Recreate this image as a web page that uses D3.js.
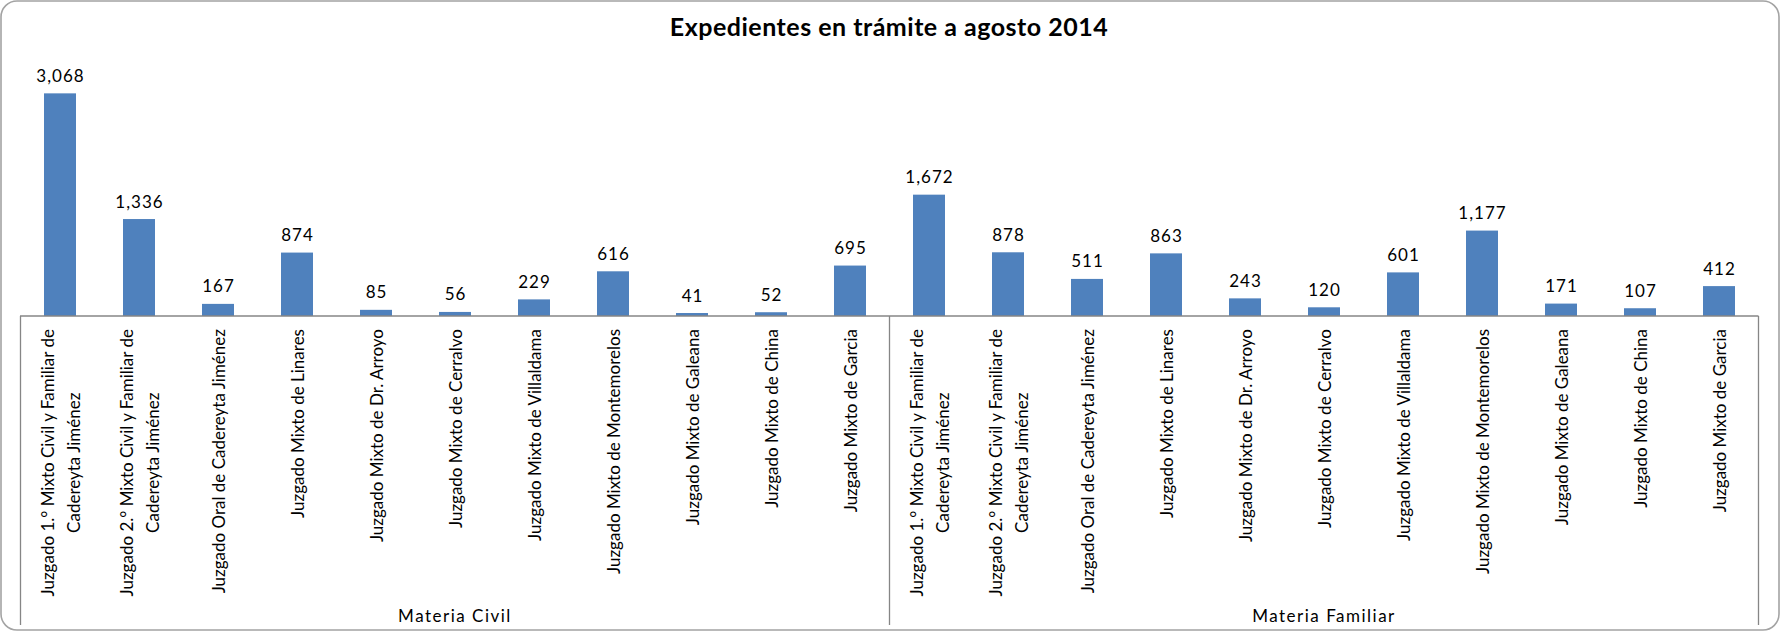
<!DOCTYPE html>
<html><head><meta charset="utf-8">
<script src="https://cdn.jsdelivr.net/npm/d3@7"></script>
<style>body{margin:0;background:#fff} svg{display:block}</style>
</head><body><svg id="c" width="1781" height="632"></svg>
<script>
const title = "Expedientes en trámite a agosto 2014";
const groups = ["Materia Civil", "Materia Familiar"];
const courts = [
  "Juzgado 1.° Mixto Civil y Familiar de Cadereyta Jiménez",
  "Juzgado 2.° Mixto Civil y Familiar de Cadereyta Jiménez",
  "Juzgado Oral de Cadereyta Jiménez",
  "Juzgado Mixto de Linares",
  "Juzgado Mixto de Dr. Arroyo",
  "Juzgado Mixto de Cerralvo",
  "Juzgado Mixto de Villaldama",
  "Juzgado Mixto de Montemorelos",
  "Juzgado Mixto de Galeana",
  "Juzgado Mixto de China",
  "Juzgado Mixto de Garcia"
];
const civilValues = [3068, 1336, 167, 874, 85, 56, 229, 616, 41, 52, 695];
const familiarValues = [1672, 878, 511, 863, 243, 120, 601, 1177, 171, 107, 412];
const yDomain = [0, 3500];

const seriesByGroup = [civilValues, familiarValues];
const data = [];
groups.forEach((g, gi) => courts.forEach((c, ci) =>
  data.push({group: g, gi, court: c, key: gi + "-" + ci, value: seriesByGroup[gi][ci]})));

const svg = d3.select("#c");
const FONT = "Lato, 'Open Sans', sans-serif";
const plot = {left: 20.5, right: 1758.5, base: 316, top: 62};

const x = d3.scaleBand().domain(data.map(d => d.key))
  .range([plot.left, plot.right]).paddingInner(0.595).paddingOuter(0.2975);
const y = d3.scaleLinear().domain(yDomain).range([plot.base, plot.top]);

// border
svg.append("rect").attr("x", 1).attr("y", 1).attr("width", 1778).attr("height", 629)
  .attr("rx", 16).attr("fill", "#fff").attr("stroke", "#a3a3a3").attr("stroke-width", 1.6);

// title
svg.append("text").attr("x", 889).attr("y", 36).attr("text-anchor", "middle")
  .attr("font-family", FONT).attr("font-weight", "bold").attr("font-size", 25)
  .attr("letter-spacing", 0.5).attr("fill", "#000").text(title);

// bars
svg.append("g").selectAll("rect").data(data).join("rect")
  .attr("x", d => x(d.key)).attr("width", x.bandwidth())
  .attr("y", d => y(d.value)).attr("height", d => y(0) - y(d.value))
  .attr("fill", "#4F81BD");

// value labels
const fmt = d3.format(",");
svg.append("g").selectAll("text").data(data).join("text")
  .attr("x", d => x(d.key) + x.bandwidth() / 2 + 0.5).attr("y", d => y(d.value) - 11.5)
  .attr("text-anchor", "middle").attr("font-family", FONT).attr("font-size", 17)
  .attr("letter-spacing", 1).attr("fill", "#000").text(d => fmt(d.value));

// axis line
const axisG = svg.append("g").attr("stroke", "#868686").attr("stroke-width", 1.3);
axisG.append("line").attr("x1", plot.left - 0.5).attr("x2", plot.right).attr("y1", y(0)).attr("y2", y(0));
const step = x.step();
const groupEdges = groups.map((g, gi) => x(gi + "-0") - step * x.paddingInner() / 2);
groupEdges.push(plot.right);
groupEdges.forEach(e => axisG.append("line").attr("x1", e).attr("x2", e).attr("y1", y(0)).attr("y2", 625));

// category labels
const labelTop = 329, lineGap = 26, maxW = 280;
const labG = svg.append("g").attr("font-family", FONT).attr("font-size", 17).attr("fill", "#000");
data.forEach(d => {
  const cx = x(d.key) + x.bandwidth() / 2;
  const g = labG.append("g").attr("transform", `translate(${cx},${labelTop}) rotate(-90)`);
  const words = d.court.split(" ");
  const lines = [];
  let cur = "";
  const probe = g.append("text");
  words.forEach(w => {
    const t = cur ? cur + " " + w : w;
    probe.text(t);
    if (probe.node().getComputedTextLength() > maxW && cur) { lines.push(cur); cur = w; }
    else cur = t;
  });
  lines.push(cur);
  const lens = lines.map(l => { probe.text(l); return probe.node().getComputedTextLength(); });
  probe.remove();
  const L = Math.max(...lens);
  lines.forEach((l, i) => {
    g.append("text").attr("x", -L / 2).attr("y", (i - (lines.length - 1) / 2) * lineGap)
      .attr("text-anchor", "middle").attr("dominant-baseline", "central").text(l);
  });
});

// group labels
groups.forEach((g, gi) => {
  svg.append("text").attr("x", (groupEdges[gi] + groupEdges[gi + 1]) / 2).attr("y", 621.5)
    .attr("text-anchor", "middle").attr("font-family", FONT).attr("font-size", 17)
    .attr("letter-spacing", 1.5).attr("fill", "#000").text(g);
});
</script></body></html>
